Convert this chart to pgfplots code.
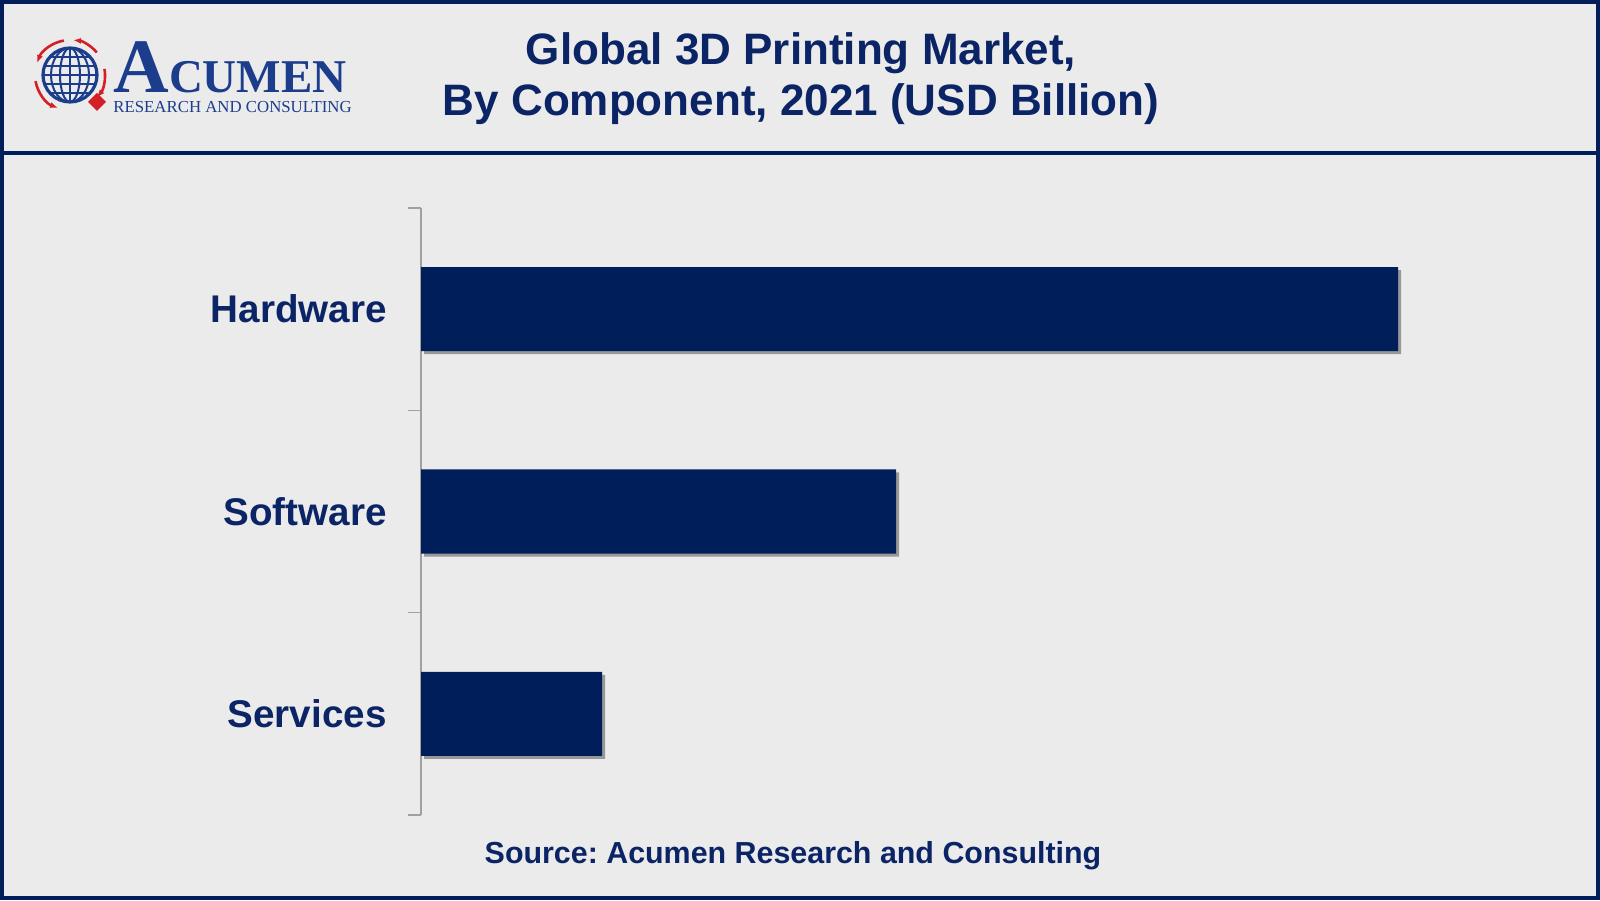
\documentclass[border=0pt]{standalone}
\usepackage{fontspec}
\setmainfont{Liberation Sans}
\newfontfamily\logofont{Liberation Serif}
\usepackage{pgfplots}
\pgfplotsset{compat=1.18}
\usetikzlibrary{shadows,arrows.meta}
\frenchspacing

\definecolor{bg}{HTML}{EBEBEB}
\definecolor{navy}{HTML}{001E5A}
\definecolor{titlenavy}{HTML}{0B2466}
\definecolor{logoblue}{HTML}{1C3C8C}
\definecolor{logored}{HTML}{D51F26}
\definecolor{axisgray}{HTML}{A0A0A0}

\begin{document}
\begin{tikzpicture}[x=0.5pt,y=0.5pt]
% canvas: 1 unit = 1 px of the 1600x900 reference
\fill[bg] (0,0) rectangle (1600,900);
\draw[navy, line width=2pt] (2,2) rectangle (1598,898);
\draw[navy, line width=2pt] (0,747) -- (1600,747);

% logo
\begin{scope}
  \clip (70,825) circle (27);
  \foreach \d in {-18,-9,0,9,18} \draw[logoblue, line width=1pt] (40,825+\d) -- (100,825+\d);
  \draw[logoblue, line width=1pt] (70,795) -- (70,855);
  \draw[logoblue, line width=1pt] (70,825) ellipse (10 and 27);
  \draw[logoblue, line width=1pt] (70,825) ellipse (19 and 27);
\end{scope}
\draw[logoblue, line width=1.6pt] (70,825) circle (27);
\draw[logored, line width=1.3pt, -{Latex[length=4pt]}] (70,825) ++(100:35) arc (100:160:35);
\draw[logored, line width=1.3pt, -{Latex[length=4pt]}] (70,825) ++(190:35) arc (190:250:35);
\draw[logored, line width=1.3pt, -{Latex[length=4pt]}] (70,825) ++(10:35) arc (10:-40:35);
\draw[logored, line width=1.3pt, -{Latex[length=4pt]}] (70,825) ++(40:35) arc (40:85:35);
\fill[logored] (97,789) -- (106,798) -- (97,807) -- (88,798) -- cycle;
\node[anchor=base west, inner sep=0, text depth=0pt, text=logoblue] at (113,807)
  {\logofont\bfseries\fontsize{38.5}{40}\selectfont A\fontsize{23.5}{25}\selectfont CUMEN};
\node[anchor=base west, inner sep=0, text height=6pt, text=logoblue] at (113,787)
  {\logofont\fontsize{8.4}{10}\selectfont RESEARCH AND CONSULTING};

% title
\node[anchor=base, inner sep=0, text=titlenavy, font=\fontsize{22}{26}\selectfont\bfseries]
  at (801,835) {Global 3D Printing Market,};
\node[anchor=base, inner sep=0, text=titlenavy, font=\fontsize{22}{26}\selectfont\bfseries]
  at (801,784) {By Component, 2021 (USD Billion)};

\begin{axis}[
  at={(210.5pt,42.5pt)}, anchor=south west,
  scale only axis, width=539.5pt, height=303.5pt,
  xmin=0, xmax=10.79, ymin=-0.5, ymax=2.5,
  xbar, bar width=42pt,
  axis x line=none,
  axis y line*=left,
  y axis line style={draw=axisgray, line width=0.75pt},
  ytick={0,1,2},
  yticklabels={Services,Software,Hardware},
  major tick length=0pt,
  minor ytick={-0.5,0.5,1.5,2.5},
  minor tick length=6.5pt,
  tick align=outside,
  every minor tick/.style={draw=axisgray, line width=0.75pt},
  yticklabel style={font=\fontsize{19.3}{23}\selectfont\bfseries, text=titlenavy, inner sep=0pt, xshift=-17pt},
  clip=false,
]
\addplot[fill=navy, draw=none,
  drop shadow={shadow xshift=1.5pt, shadow yshift=-1.5pt, opacity=0.35, fill=black}]
  coordinates {(1.81,0) (4.75,1) (9.77,2)};
\end{axis}

% source
\node[anchor=base, inner sep=0, text=titlenavy, font=\fontsize{15.2}{18}\selectfont\bfseries]
  at (793,37) {Source: Acumen Research and Consulting};

\pgfresetboundingbox
\useasboundingbox (0,0) rectangle (1600,900);
\end{tikzpicture}
\end{document}
